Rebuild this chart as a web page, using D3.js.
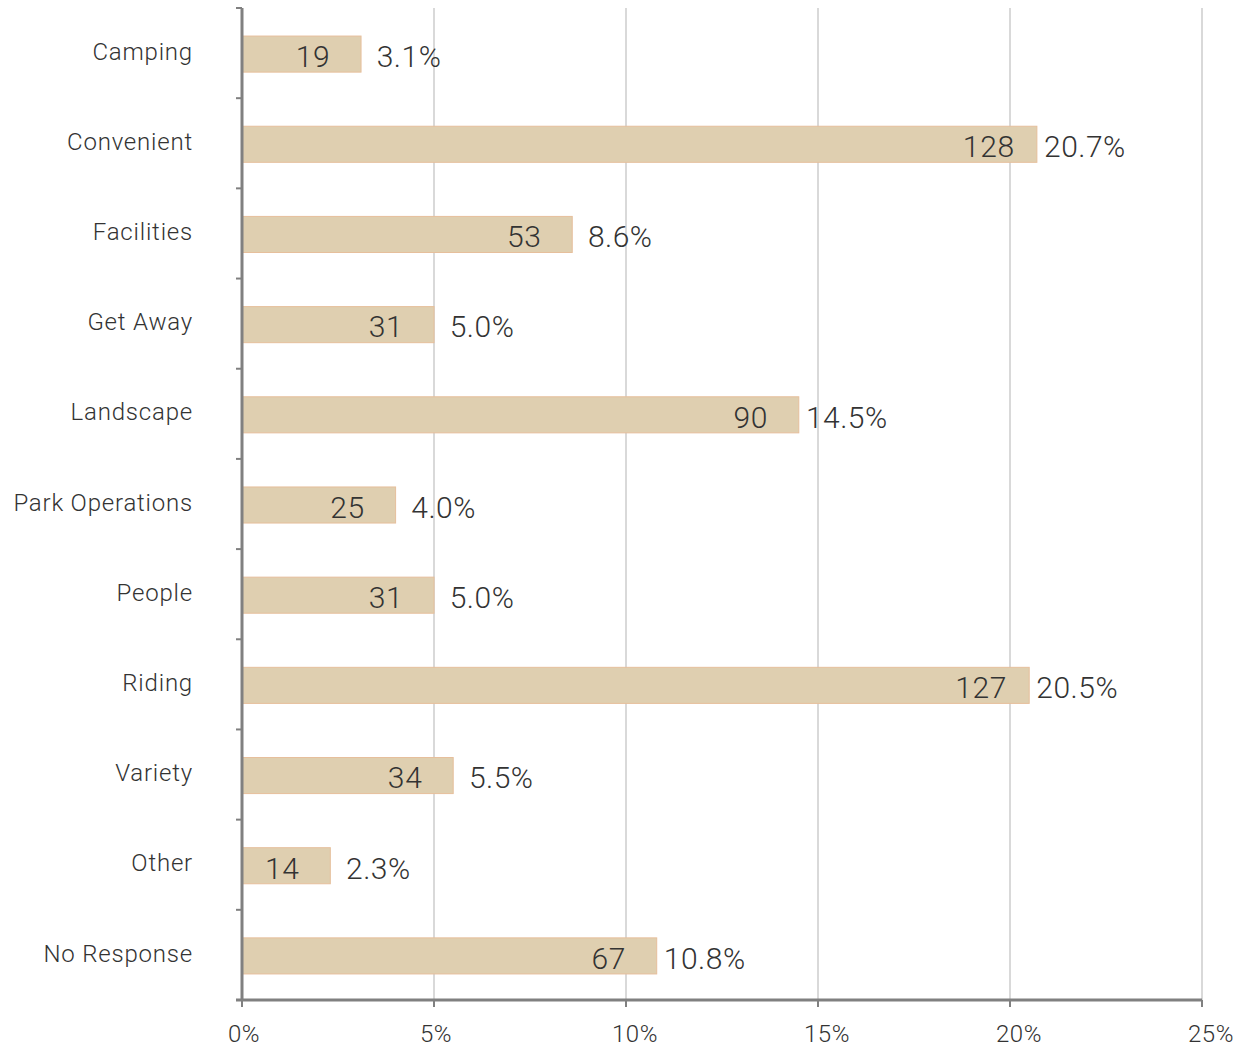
<!DOCTYPE html>
<html>
<head>
<meta charset="utf-8">
<script src="https://cdn.jsdelivr.net/npm/d3@7"></script>
<style>
  html, body { margin: 0; padding: 0; background: #fff; }
  svg { display: block; font-family: Roboto, "Noto Sans", sans-serif; font-weight: 300; }
</style>
</head>
<body>
<svg id="chart" width="1250" height="1051"></svg>
<script>
// Reasons given, response counts and share of all responses
const categories = ["Camping", "Convenient", "Facilities", "Get Away", "Landscape",
  "Park Operations", "People", "Riding", "Variety", "Other", "No Response"];
const counts = [19, 128, 53, 31, 90, 25, 31, 127, 34, 14, 67];
const percents = [3.1, 20.7, 8.6, 5.0, 14.5, 4.0, 5.0, 20.5, 5.5, 2.3, 10.8];
const xTicks = [0, 5, 10, 15, 20, 25];

const margin = { top: 8, right: 48, bottom: 51, left: 242 };
const width = 1250, height = 1051;
const innerW = width - margin.left - margin.right;
const innerH = height - margin.top - margin.bottom;

const svg = d3.select("#chart");
const g = svg.append("g").attr("transform", `translate(${margin.left},${margin.top})`);

const x = d3.scaleLinear().domain([0, 25]).range([0, innerW]);
const y = d3.scaleBand().domain(categories).range([1, innerH + 1]).paddingInner(0.6).paddingOuter(0.3);

// vertical gridlines
g.selectAll(".grid").data(xTicks.slice(1)).join("line")
  .attr("x1", d => x(d)).attr("x2", d => x(d))
  .attr("y1", 0).attr("y2", innerH)
  .attr("stroke", "#d9d9d9").attr("stroke-width", 2);

const data = categories.map((c, i) => ({ c, n: counts[i], p: percents[i] }));

// bars
g.selectAll(".bar").data(data).join("rect")
  .attr("x", 0).attr("y", d => y(d.c))
  .attr("width", d => x(d.p)).attr("height", y.bandwidth())
  .attr("fill", "#dfcfb0").attr("stroke", "#e6bf9c").attr("stroke-width", 1);

// count inside each bar, near its end
g.selectAll(".count").data(data).join("text")
  .attr("x", d => x(d.p) - 48).attr("y", d => y(d.c) + y.bandwidth() / 2 + 2)
  .attr("dy", "0.36em").attr("text-anchor", "middle")
  .attr("font-size", 30).attr("fill", "#333").attr("letter-spacing", 0.7)
  .text(d => d.n);

// percentage just past each bar
g.selectAll(".pct").data(data).join("text")
  .attr("x", d => x(d.p) + 48).attr("y", d => y(d.c) + y.bandwidth() / 2 + 2)
  .attr("dy", "0.36em").attr("text-anchor", "middle")
  .attr("font-size", 30).attr("fill", "#333").attr("letter-spacing", 0.5)
  .text(d => d.p.toFixed(1) + "%");

// left axis: line, band boundary ticks and category labels
const axisColor = "#808080";
g.append("line").attr("x1", 0).attr("x2", 0).attr("y1", 0).attr("y2", innerH)
  .attr("stroke", axisColor).attr("stroke-width", 3);
const bounds = d3.range(categories.length + 1).map(i => i * innerH / categories.length);
g.selectAll(".ytick").data(bounds).join("line")
  .attr("x1", -6).attr("x2", 0).attr("y1", d => d).attr("y2", d => d)
  .attr("stroke", axisColor).attr("stroke-width", 2);
g.selectAll(".ylab").data(categories).join("text")
  .attr("x", -49).attr("y", d => y(d) + y.bandwidth() / 2 - 3)
  .attr("dy", "0.36em").attr("text-anchor", "end")
  .attr("font-size", 24).attr("fill", "#333").attr("letter-spacing", 0.8)
  .text(d => d);

// bottom axis
g.append("line").attr("x1", -6).attr("x2", x(25)).attr("y1", innerH).attr("y2", innerH)
  .attr("stroke", axisColor).attr("stroke-width", 3);
g.selectAll(".xtick").data(xTicks).join("line")
  .attr("x1", d => x(d)).attr("x2", d => x(d)).attr("y1", innerH).attr("y2", innerH + 7)
  .attr("stroke", axisColor).attr("stroke-width", 2);
g.selectAll(".xlab").data(xTicks).join("text")
  .attr("x", d => x(d) - 14).attr("y", innerH + 42)
  .attr("text-anchor", "start")
  .attr("font-size", 24).attr("fill", "#333").attr("letter-spacing", 0.5)
  .text(d => d + "%");
</script>
</body>
</html>
